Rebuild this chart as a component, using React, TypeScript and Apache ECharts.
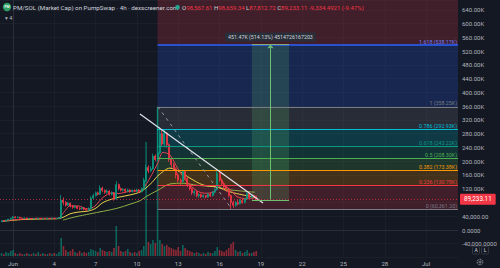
import React, { useEffect, useRef } from 'react';
import * as echarts from 'echarts';

// ---------- data ----------
const TITLE = 'PM/SOL (Market Cap) on PumpSwap · 4h · dexscreener.com';
const OHLC_TEXT = '{l|O}{r|98,567.61} {l|H}{r|98,659.34} {l|L}{r|87,812.72} {l|C}{r|89,233.11} {r|-9,334.4921 (-9.47%)}';

// first 4h candle time, in days from Jun 1 00:00, and step (4h)
const CANDLE_START = -5 / 6;
const CANDLE_STEP = 1 / 6;

// [open, close, low, high] market cap in K
const OHLC_K: number[][] = [
  [24, 27, 23, 28], [27, 26, 25, 29], [26, 29, 25, 30], [29, 31, 28, 33], [31, 34, 30, 36], [34, 38, 33, 41],
  [38, 36, 34, 40], [36, 37, 35, 39], [37, 35, 33, 38], [35, 34, 33, 36], [34, 35, 33, 37], [35, 33, 32, 36],
  [33, 34, 32, 35], [34, 33, 32, 35], [33, 34, 32, 35], [34, 33, 32, 35], [33, 34, 32, 36], [34, 33, 32, 35],
  [33, 33.5, 32, 35], [33.5, 33, 32, 35], [33, 34, 32, 36], [34, 33, 32, 35], [33, 34, 32, 37], [34, 33, 32, 36],
  [33, 34, 32, 35], [34, 36, 33, 38],
  [36, 87, 35, 102], [87, 80, 72, 95], [80, 72, 68, 84], [72, 78, 70, 82], [78, 70, 66, 80], [70, 66, 62, 73],
  [66, 68, 63, 72], [68, 63, 60, 70], [63, 62, 58, 66], [62, 64, 59, 67], [64, 60, 57, 65], [60, 58, 55, 62],
  [58, 62, 56, 66], [62, 93, 60, 98],
  [93, 100, 90, 106], [100, 108, 97, 112], [108, 104, 100, 112], [104, 122, 102, 130], [122, 115, 110, 126],
  [115, 110, 105, 118], [110, 113, 106, 118], [113, 104, 100, 116], [104, 108, 100, 112], [108, 90, 85, 110],
  [90, 132, 88, 142], [132, 120, 115, 135], [120, 116, 112, 124], [116, 118, 112, 122], [118, 113, 109, 121],
  [113, 116, 110, 120], [116, 112, 108, 119], [112, 115, 109, 118], [115, 113, 110, 118], [113, 116, 110, 120],
  [116, 112, 108, 119], [112, 120, 109, 124],
  [120, 145, 118, 152], [145, 182, 140, 190], [182, 172, 165, 188], [172, 178, 168, 186], [178, 215, 175, 222],
  [215, 205, 200, 220], [205, 225, 200, 358.25], [225, 280, 220, 300], [280, 250, 245, 290], [250, 282, 245, 292],
  [282, 248, 240, 285], [248, 205, 198, 252], [205, 190, 180, 212], [190, 178, 172, 196], [178, 160, 150, 182],
  [160, 145, 138, 165], [145, 140, 130, 150], [140, 172, 138, 176],
  [172, 150, 145, 175], [150, 132, 125, 155], [132, 120, 115, 136], [120, 108, 102, 124], [108, 112, 100, 116],
  [112, 100, 95, 114], [100, 103, 94, 106], [103, 97, 93, 106], [97, 100, 93, 103], [100, 96, 92, 102],
  [96, 104, 94, 108], [104, 100, 96, 108], [100, 110, 98, 114], [110, 118, 106, 122], [118, 165, 115, 175],
  [165, 145, 140, 168], [145, 135, 128, 150], [135, 125, 118, 140], [125, 118, 110, 130], [118, 100, 95, 122],
  [100, 80, 60.36, 103], [80, 72, 65, 85], [72, 80, 68, 84], [80, 76, 72, 88], [76, 86, 74, 90],
  [86, 80, 76, 92], [80, 90, 78, 94], [90, 106, 88, 110], [106, 95, 92, 108], [95, 100, 92, 104],
  [100, 98.57, 94, 103], [98.57, 89.23, 87.81, 98.66],
];

// volume per candle (relative units)
const VOLUME: number[] = [
  3, 2, 4, 3, 5, 6, 3, 2, 3, 2, 2, 3, 2, 2, 3, 2, 4, 2, 3, 2, 2, 3, 2, 3, 2, 4,
  18, 10, 6, 4, 5, 7, 4, 3, 5, 3, 4, 3, 4, 7,
  6, 5, 4, 8, 6, 5, 4, 5, 4, 8, 30, 10, 5, 4, 5, 7, 4, 3, 4, 3, 5, 6,
  10, 114, 14, 12, 16, 13, 149, 16, 12, 10, 11, 9, 8, 7, 6, 9, 5, 11,
  8, 6, 5, 4, 3, 4, 3, 2, 3, 2, 4, 3, 3, 5, 9, 6, 5, 4, 6, 8, 12, 14, 6, 4, 5, 3, 4, 6, 3, 3, 4, 5,
];

// moving averages: [day, value K]
const MA_FAST_K: number[][] = [
  [-0.8, 26], [0.51, 31], [1.96, 34], [3.27, 34], [3.7, 52], [4.14, 70], [4.72, 70], [5.45, 61], [5.96, 70],
  [6.54, 95], [7.19, 108], [7.63, 106], [8.5, 113], [9.22, 115], [9.59, 128], [10.09, 162], [10.53, 196],
  [10.89, 226], [11.4, 218], [11.98, 178], [12.64, 140], [13.36, 114], [13.94, 107], [14.52, 110], [15.18, 130],
  [15.76, 118], [16.27, 97], [16.99, 91], [17.57, 94],
];
const MA_MID_K: number[][] = [
  [-0.8, 25], [0.51, 30], [1.96, 32], [3.27, 33], [3.7, 38], [4.14, 47], [4.72, 52], [5.45, 55], [5.96, 62],
  [6.54, 80], [7.19, 90], [7.63, 95], [8.5, 102], [9.22, 110], [9.59, 120], [10.09, 138], [10.53, 158],
  [11.4, 180], [12.13, 169], [12.85, 151], [13.8, 131], [14.81, 125], [15.76, 111], [16.7, 102], [17.57, 95],
];
const MA_SLOW_K: number[][] = [
  [3.63, 29], [4.5, 38], [5.59, 47], [7.55, 63], [8.5, 75], [9.22, 85], [9.66, 97], [10.53, 116], [11.4, 134],
  [12.35, 136], [13.36, 130], [14.81, 125], [15.76, 117], [17.21, 111], [17.57, 110],
];

// fibonacci retracement
const FIB_START_T = 10.5;
const FIB_LEVELS = ['0', '0.236', '0.382', '0.5', '0.618', '0.786', '1', '1.618', '2.618'];
const FIB_VALUES = [60361.2, 130780, 173380, 208300, 243220, 292930, 358250, 538170, 835000];
const FIB_VALUE_TEXT = ['60,361.20', '130.78K', '173.38K', '208.30K', '243.22K', '292.93K', '358.25K', '538.17K', ''];
const FIB_COLORS = ['#787b86', '#f23645', '#ff9800', '#4caf50', '#089981', '#00bcd4', '#787b86', '#2962ff', '#f23645'];
const FIB_DIAGONAL = [[10.53, 358250], [15.9, 60361.2]];

// trend line
const TREND = [[9.22, 337500], [18.16, 78500]];

// price range measure
const MEASURE_T = [17.35, 20.05];
const MEASURE_ARROW_T = 18.7;
const MEASURE_LOW = 87812.72;
const MEASURE_HIGH = 539285;
const MEASURE_TEXT = '451.47K (514.13%) 4514726167203';

const LAST_CLOSE = 89233.11;
const LAST_CLOSE_TEXT = '89,233.11';

// axes
const X_MIN = -0.944;
const X_MAX = 32.32;
const X_TICK_DAYS = [0, 3, 6, 9, 12, 15, 18, 21, 24, 27, 30];
const X_TICK_LABELS = ['Jun', '4', '7', '10', '13', '16', '19', '22', '25', '28', 'Jul'];
const Y_MIN = -80000;
const Y_MAX = 669090;
const Y_TICK_VALUES = [-40000, 0, 40000, 120000, 160000, 200000, 240000, 280000, 320000, 360000, 400000, 440000, 480000, 520000, 560000, 600000, 640000];
const Y_TICK_LABELS = ['-40,000.0000', '0.0000', '40,000.00', '120.00K', '160.00K', '200.00K', '240.00K', '280.00K', '320.00K', '360.00K', '400.00K', '440.00K', '480.00K', '520.00K', '560.00K', '600.00K', '640.00K'];

// ---------- styling ----------
const FONT = 'Roboto, "Noto Sans", "DejaVu Sans", sans-serif';
const BG = '#141823';
const UP = '#089981';
const DOWN = '#f23645';
const AXIS_TEXT = '#b2b5be';

function rgba(hex: string, a: number) {
  const n = parseInt(hex.slice(1), 16);
  return `rgba(${(n >> 16) & 255},${(n >> 8) & 255},${n & 255},${a})`;
}

function buildOption(): any {
  const candleData = OHLC_K.map((c, i) => [CANDLE_START + i * CANDLE_STEP, c[0] * 1000, c[1] * 1000, c[2] * 1000, c[3] * 1000]);
  const volumeData = VOLUME.map((v, i) => ({
    value: [CANDLE_START + i * CANDLE_STEP, v],
    itemStyle: { color: OHLC_K[i][1] >= OHLC_K[i][0] ? rgba(UP, 0.6) : rgba(DOWN, 0.55) },
  }));
  const toAbs = (arr: number[][]) => arr.map((p) => [p[0], p[1] * 1000]);

  const fibZones = FIB_VALUES.slice(0, -1).map((v, k) => [
    { coord: [FIB_START_T, v], itemStyle: { color: rgba(FIB_COLORS[k + 1], 0.2) } },
    { coord: [X_MAX, FIB_VALUES[k + 1]] },
  ]);
  const fibLines = FIB_VALUES.slice(0, -1).map((v, k) => [
    {
      coord: [FIB_START_T, v],
      lineStyle: { color: FIB_COLORS[k], width: k === 7 ? 1.6 : 1, type: 'solid' },
      label: { show: true, formatter: `${FIB_LEVELS[k]} (${FIB_VALUE_TEXT[k]})`, color: FIB_COLORS[k] === '#2962ff' ? '#6f7cf5' : FIB_COLORS[k] },
    },
    { coord: [X_MAX, v] },
  ]);

  return {
    animation: false,
    backgroundColor: BG,
    textStyle: { fontFamily: FONT },
    grid: [
      { left: 0, right: 42, top: 0, bottom: 10.5 },
      { left: 0, right: 42, top: 106, bottom: 12 },
    ],
    xAxis: [
      {
        type: 'value', gridIndex: 0, min: X_MIN, max: X_MAX,
        axisLine: { show: true, lineStyle: { color: '#2a2e39' } },
        axisTick: { show: false, customValues: X_TICK_DAYS },
        splitLine: { show: true, lineStyle: { color: '#1b1f2a', width: 1 } },
        axisLabel: {
          fontSize: 6, color: AXIS_TEXT, margin: 2.5, fontFamily: FONT,
          customValues: X_TICK_DAYS,
          formatter: (v: number) => {
            const k = X_TICK_DAYS.findIndex((d) => Math.abs(d - v) < 1e-6);
            return k >= 0 ? X_TICK_LABELS[k] : '';
          },
        },
      },
      { type: 'value', gridIndex: 1, min: X_MIN, max: X_MAX, show: false, splitLine: { show: false } },
    ],
    yAxis: [
      {
        type: 'value', gridIndex: 0, position: 'right', min: Y_MIN, max: Y_MAX, interval: 40000,
        axisLine: { show: true, lineStyle: { color: '#2a2e39' } },
        axisTick: { show: false },
        splitLine: { show: true, lineStyle: { color: '#1b1f2a', width: 1 } },
        axisLabel: {
          fontSize: 6, color: AXIS_TEXT, margin: 4, fontFamily: FONT,
          formatter: (v: number) => {
            const k = Y_TICK_VALUES.indexOf(v);
            return k >= 0 ? Y_TICK_LABELS[k] : '';
          },
        },
      },
      { type: 'value', gridIndex: 1, min: 0, max: 150, show: false, splitLine: { show: false } },
    ],
    series: [
      {
        name: 'fib', type: 'line', xAxisIndex: 0, yAxisIndex: 0, data: [], z: 1,
        markArea: { silent: true, z: 1, data: fibZones },
        markLine: {
          silent: true, z: 5, symbol: ['none', 'none'],
          label: { show: false, position: 'insideEndTop', fontSize: 5.3, distance: 1, fontFamily: FONT },
          data: [
            ...fibLines,
            [
              { coord: FIB_DIAGONAL[0], lineStyle: { color: '#9598a1', width: 1, type: [3, 4] }, label: { show: false } },
              { coord: FIB_DIAGONAL[1] },
            ],
            [
              { coord: TREND[0], lineStyle: { color: '#e0e3eb', width: 1.2, type: 'solid' }, label: { show: false } },
              { coord: TREND[1] },
            ],
          ],
        },
      },
      {
        name: 'measure', type: 'line', xAxisIndex: 0, yAxisIndex: 0, data: [], z: 1,
        markArea: {
          silent: true, z: 1.5,
          data: [[
            { coord: [MEASURE_T[0], MEASURE_LOW], itemStyle: { color: 'rgba(90,190,110,0.2)' } },
            { coord: [MEASURE_T[1], MEASURE_HIGH] },
          ]],
        },
        markLine: {
          silent: true, z: 6, symbol: ['none', 'none'],
          label: { show: false },
          data: [
            [
              { coord: [MEASURE_T[0], MEASURE_HIGH], lineStyle: { color: 'rgba(160,190,90,0.8)', width: 1, type: 'solid' } },
              { coord: [MEASURE_T[1], MEASURE_HIGH] },
            ],
            [
              { coord: [MEASURE_T[0], MEASURE_LOW], lineStyle: { color: '#6cc070', width: 1, type: 'solid' } },
              { coord: [MEASURE_T[1], MEASURE_LOW] },
            ],
            [
              {
                coord: [MEASURE_ARROW_T, MEASURE_LOW], symbol: 'none',
                lineStyle: { color: '#6cc070', width: 1, type: 'solid' },
                label: {
                  show: true, position: 'end', formatter: MEASURE_TEXT, color: '#d1d4dc', fontSize: 5.3,
                  backgroundColor: '#2a2e39', padding: [2, 3], borderRadius: 1, distance: 3, fontFamily: FONT,
                },
              },
              { coord: [MEASURE_ARROW_T, MEASURE_HIGH], symbol: 'arrow', symbolSize: [5, 4] },
            ],
          ],
        },
      },
      {
        name: 'slow', type: 'line', xAxisIndex: 0, yAxisIndex: 0, data: toAbs(MA_SLOW_K), smooth: 0.3,
        showSymbol: false, z: 2, lineStyle: { color: '#8fae45', width: 1 },
      },
      {
        name: 'mid', type: 'line', xAxisIndex: 0, yAxisIndex: 0, data: toAbs(MA_MID_K), smooth: 0.3,
        showSymbol: false, z: 2, lineStyle: { color: '#e9d34a', width: 1 },
      },
      {
        name: 'fast', type: 'line', xAxisIndex: 0, yAxisIndex: 0, data: toAbs(MA_FAST_K), smooth: 0.3,
        showSymbol: false, z: 2, lineStyle: { color: '#e2464f', width: 1 },
      },
      {
        name: 'volume', type: 'bar', xAxisIndex: 1, yAxisIndex: 1, data: volumeData, barWidth: 1.6, z: 2,
      },
      {
        name: 'price', type: 'candlestick', xAxisIndex: 0, yAxisIndex: 0, data: candleData, barWidth: 1.5, z: 3,
        itemStyle: { color: UP, color0: DOWN, borderColor: UP, borderColor0: DOWN, borderWidth: 0.8 },
        markLine: {
          silent: true, z: 7, symbol: ['none', 'none'],
          data: [{
            yAxis: LAST_CLOSE,
            lineStyle: { color: 'rgba(242,54,69,0.65)', type: [1, 2], width: 1 },
            label: {
              show: true, position: 'end', formatter: LAST_CLOSE_TEXT, color: '#ffffff', fontSize: 6.3,
              backgroundColor: DOWN, padding: [3, 4, 2, 4], borderRadius: 1, distance: 2, fontFamily: FONT,
            },
          }],
        },
      },
    ],
    graphic: [
      { type: 'circle', shape: { cx: 7, cy: 7, r: 4.2 }, style: { fill: '#2f9e63' }, z: 20 },
      { type: 'text', x: 7, y: 7.2, z: 21, style: { text: 'PM', fontSize: 3.2, fontWeight: 'bold', fill: '#ffffff', align: 'center', verticalAlign: 'middle', fontFamily: FONT } },
      { type: 'text', x: 13, y: 7.5, z: 20, style: { text: TITLE, fontSize: 6.2, fill: '#d1d4dc', verticalAlign: 'middle', fontFamily: FONT } },
      { type: 'circle', shape: { cx: 177.5, cy: 7.3, r: 2 }, style: { fill: '#22ab94', stroke: 'rgba(34,171,148,0.35)', lineWidth: 1.6 }, z: 20 },
      {
        type: 'text', x: 182, y: 7.5, z: 20,
        style: {
          text: OHLC_TEXT, fontSize: 6, verticalAlign: 'middle', fontFamily: FONT,
          rich: { l: { fill: '#d1d4dc', fontSize: 6, fontFamily: FONT }, r: { fill: DOWN, fontSize: 6, fontFamily: FONT } },
        },
      },
      { type: 'text', x: 5, y: 17.5, z: 20, style: { text: '▾ 4', fontSize: 5.5, fill: AXIS_TEXT, verticalAlign: 'middle', fontFamily: FONT } },
      { type: 'rect', shape: { x: 472.5, y: 246.5, width: 7, height: 7.5, r: 1 }, style: { fill: BG, stroke: '#3a3e4a', lineWidth: 0.8 }, z: 20 },
      { type: 'text', x: 476, y: 250.4, z: 21, style: { text: 'A', fontSize: 5, fill: '#d1d4dc', align: 'center', verticalAlign: 'middle', fontFamily: FONT } },
      { type: 'rect', shape: { x: 481.5, y: 246.5, width: 7, height: 7.5, r: 1 }, style: { fill: BG, stroke: '#3a3e4a', lineWidth: 0.8 }, z: 20 },
      { type: 'text', x: 485, y: 250.4, z: 21, style: { text: 'L', fontSize: 5, fill: '#d1d4dc', align: 'center', verticalAlign: 'middle', fontFamily: FONT } },
      { type: 'circle', shape: { cx: 480, cy: 262, r: 2.8 }, style: { fill: 'none', stroke: '#9598a1', lineWidth: 1, lineDash: [1.2, 0.6] }, z: 20 },
      { type: 'circle', shape: { cx: 480, cy: 262, r: 1 }, style: { fill: 'none', stroke: '#9598a1', lineWidth: 0.8 }, z: 20 },
    ],
  };
}

export default function App() {
  const ref = useRef<HTMLDivElement>(null);
  useEffect(() => {
    if (!ref.current) return;
    const chart = echarts.init(ref.current, undefined, { renderer: 'svg' });
    chart.setOption(buildOption());
    return () => chart.dispose();
  }, []);
  return <div ref={ref} style={{ position: 'fixed', left: 0, top: 0, width: 500, height: 268 }} />;
}
